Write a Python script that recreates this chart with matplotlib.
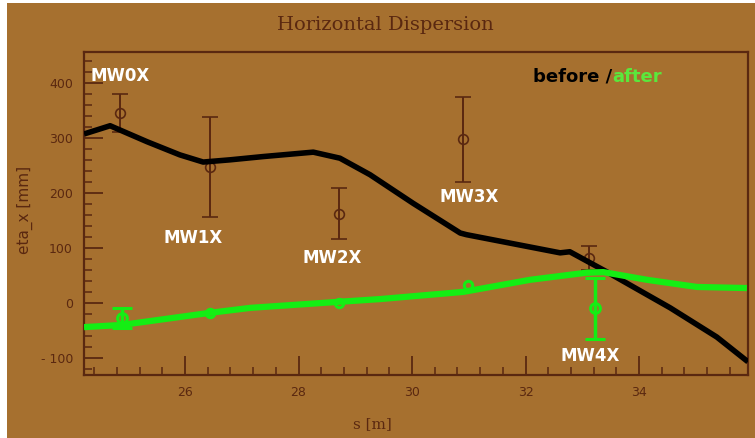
import matplotlib
matplotlib.use("Agg")
import matplotlib.pyplot as plt
from matplotlib.ticker import MultipleLocator
from matplotlib.patches import Rectangle

# ---- data ----
monitors = ["MW0X", "MW1X", "MW2X", "MW3X", "MW4X"]

before_s = [24.85, 26.44, 28.71, 30.90, 33.12]
before_val = [345, 247, 162, 297, 82]
before_err = [35, 91, 46, 77, 22]

after_s = [24.89, 26.44, 28.71, 30.99, 33.22]
after_val = [-28, -18, 0, 33, -10]
after_err = [18, 0, 0, 0, 55]

model_before_s = [24.22, 24.68, 25.33, 25.91, 26.32, 26.79, 27.38, 28.26, 28.73,
                  29.26, 30.02, 30.85, 30.96, 32.61, 32.78, 33.44, 34.55, 35.37, 35.92]
model_before_v = [307, 322, 293, 269, 256, 260, 266, 274, 263,
                  233, 181, 127, 124, 91, 93, 56, -9, -62, -107]

model_after_s = [24.22, 24.89, 26.44, 27.15, 28.71, 29.44, 30.90, 32.08, 33.08,
                 33.37, 34.14, 35.02, 35.90]
model_after_v = [-44, -40, -18, -9, 2, 7, 20, 42, 55, 56, 42, 29, 27]

xticks = [26, 28, 30, 32, 34]
yticks = [-100, 0, 100, 200, 300, 400]

# ---- style ----
paper = "#a6702f"
ink = "#5a2810"
green = "#14ee14"
text_green = "#5ae83c"

fig = plt.figure(figsize=(7.55, 4.38), dpi=100, facecolor=paper)
# white photo border
fig.patches.append(Rectangle((0, 0), 7 / 755, 1, transform=fig.transFigure,
                             facecolor="white", edgecolor="none", zorder=10))
fig.patches.append(Rectangle((0, 1 - 3 / 438), 1, 3 / 438, transform=fig.transFigure,
                             facecolor="white", edgecolor="none", zorder=10))

ax = fig.add_axes([84 / 755, 1 - 375 / 438, (748 - 84) / 755, (375 - 52) / 438])
ax.set_facecolor(paper)
ax.set_xlim(24.22, 35.92)
ax.set_ylim(-131, 456)

for sp in ax.spines.values():
    sp.set_color(ink)
    sp.set_linewidth(1.6)

ax.set_xticks(xticks)
ax.set_yticks(yticks)
ax.set_yticklabels([f"{t:d}".replace("-", "- ") for t in yticks])
ax.xaxis.set_minor_locator(MultipleLocator(0.4))
ax.yaxis.set_minor_locator(MultipleLocator(20))
ax.tick_params(which="both", direction="in", color=ink, labelcolor=ink,
               labelsize=9, top=False, right=False)
ax.tick_params(which="major", length=14, width=1.3, pad=8)
ax.tick_params(which="minor", length=6, width=1.1)

# measured points, before
ax.errorbar(before_s, before_val, yerr=before_err, fmt="o", mfc="none",
            mec=ink, ms=7, mew=1.2, ecolor=ink, elinewidth=1.4,
            capsize=6, capthick=1.4, zorder=3)

# model lines
ax.plot(model_before_s, model_before_v, color="black", lw=4, zorder=4,
        solid_capstyle="butt")
ax.plot(model_after_s, model_after_v, color=green, lw=4.5, zorder=5,
        solid_capstyle="butt")

# measured points, after
with_err = [i for i, e in enumerate(after_err) if e > 0]
no_err = [i for i, e in enumerate(after_err) if e == 0]
ax.errorbar([after_s[i] for i in with_err], [after_val[i] for i in with_err],
            yerr=[after_err[i] for i in with_err], fmt="o", mfc="none",
            mec=green, ms=7, mew=2.2, ecolor=green, elinewidth=2.5,
            capsize=7, capthick=3, zorder=6)
ax.plot([after_s[i] for i in no_err], [after_val[i] for i in no_err], "o",
        mfc="none", mec=green, ms=6, mew=2.2, zorder=6)

# monitor labels
label_pos = [(24.86, 413), (26.14, 118), (28.59, 82), (31.0, 193), (33.14, -96)]
for name, (sx, vy) in zip(monitors, label_pos):
    ax.text(sx, vy, name, color="white", fontsize=12, fontweight="bold",
            ha="center", va="center", zorder=7)

t1 = ax.text(32.13, 411, "before /", color="black", fontsize=13,
             fontweight="bold", ha="left", va="center", zorder=7)
fig.canvas.draw()
bb = t1.get_window_extent()
inv = ax.transData.inverted()
x_end = inv.transform((bb.x1, bb.y0))[0]
ax.text(x_end, 411, "after", color=text_green, fontsize=13,
        fontweight="bold", ha="left", va="center", zorder=7)

fig.text(385 / 755, 1 - 25 / 438, "Horizontal Dispersion", color=ink,
         fontsize=14, family="DejaVu Serif", ha="center", va="center")
fig.text(25 / 755, 1 - 210 / 438, "eta_x [mm]", color=ink, fontsize=11,
         rotation=90, ha="center", va="center")
fig.text(372 / 755, 1 - 424 / 438, "s [m]", color=ink, fontsize=11,
         family="DejaVu Serif", ha="center", va="center")

fig.savefig("out.png", dpi=100, facecolor=paper)
